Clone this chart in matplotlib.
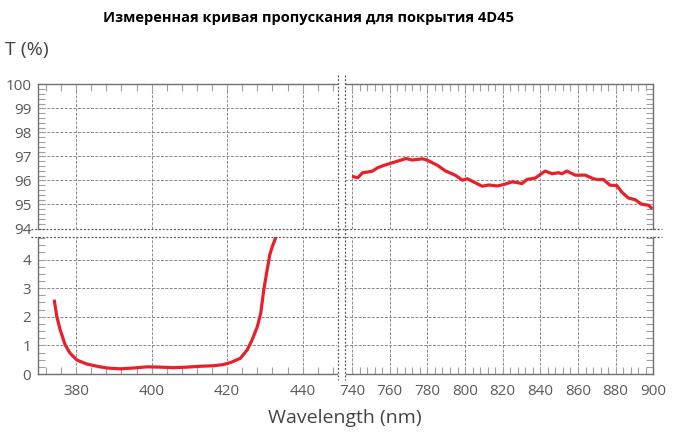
import matplotlib
matplotlib.use("Agg")
import matplotlib.pyplot as plt
from matplotlib.lines import Line2D
from matplotlib.ticker import MultipleLocator

plt.rcParams['font.family'] = ['Open Sans', 'DejaVu Sans']

# UV edge (bottom-left panel)
uv_wl = [374.2, 374.9, 375.8, 377.1, 378.4, 380.2, 382.8, 385.9, 388.2, 391.7,
         395.2, 398.8, 402.3, 405.8, 409.4, 412.9, 416.5, 419.0, 420.9, 423.5,
         425.3, 426.6, 428.0, 428.9, 429.7, 430.6, 431.3, 432.0, 433.0, 433.5]
uv_t = [2.60, 2.01, 1.54, 1.02, 0.73, 0.49, 0.35, 0.26, 0.21, 0.18,
        0.21, 0.25, 0.24, 0.22, 0.24, 0.27, 0.29, 0.33, 0.40, 0.55,
        0.84, 1.19, 1.66, 2.13, 2.95, 3.65, 4.18, 4.47, 4.82, 4.95]

# NIR plateau (top-right panel)
ir_wl = [740, 743, 745.6, 748.3, 750.9, 753.6, 757.1, 762.4, 768.6, 772.1,
         777.4, 780, 785.3, 789.7, 795, 798.6, 801.2, 804.7, 809.1, 812.7,
         817.1, 820.6, 825, 827.7, 830.3, 832.9, 837.4, 840, 842.6, 846.2,
         849.7, 851.5, 854.1, 858.5, 863.8, 868.2, 870.9, 873.5, 877, 880.6,
         883.2, 886.7, 890.3, 893.8, 897.3, 899.6]
ir_t = [96.17, 96.11, 96.32, 96.35, 96.39, 96.53, 96.63, 96.76, 96.91, 96.85,
        96.90, 96.84, 96.63, 96.39, 96.21, 96.01, 96.07, 95.93, 95.76, 95.81,
        95.77, 95.83, 95.94, 95.91, 95.87, 96.04, 96.10, 96.25, 96.39, 96.28,
        96.32, 96.28, 96.39, 96.22, 96.22, 96.07, 96.03, 96.04, 95.80, 95.79,
        95.52, 95.27, 95.20, 95.01, 94.97, 94.82]

left_xticks = [380, 400, 420, 440]
right_xticks = [740, 760, 780, 800, 820, 840, 860, 880, 900]
top_yticks = [94, 95, 96, 97, 98, 99, 100]
bottom_yticks = [0, 1, 2, 3, 4]

title = "Измеренная кривая пропускания для покрытия 4D45"

W, H = 677, 434
fig = plt.figure(figsize=(W / 100, H / 100), dpi=100)


def rect(x0, y0, x1, y1):
    # pixel box (top-left origin) -> figure fraction
    return [x0 / W, 1 - y1 / H, (x1 - x0) / W, (y1 - y0) / H]


LX0, LX1 = 38.3, 336.7
RX0, RX1 = 345.5, 653.3
TY0, TY1 = 84.3, 228.5
BY0, BY1 = 236.7, 374.0

ax_tl = fig.add_axes(rect(LX0, TY0, LX1, TY1))
ax_tr = fig.add_axes(rect(RX0, TY0, RX1, TY1))
ax_bl = fig.add_axes(rect(LX0, BY0, LX1, BY1))
ax_br = fig.add_axes(rect(RX0, BY0, RX1, BY1))

red = '#e8202a'
ax_bl.plot(uv_wl, uv_t, color=red, lw=2.3, solid_capstyle='butt', solid_joinstyle='round')
ax_tr.plot(ir_wl, ir_t, color=red, lw=2.3, solid_capstyle='butt', solid_joinstyle='round')

for ax in (ax_tl, ax_bl):
    ax.set_xlim(370, 449)
    ax.set_xticks(left_xticks)
    ax.xaxis.set_minor_locator(MultipleLocator(4))
for ax in (ax_tr, ax_br):
    ax.set_xlim(736.5, 900)
    ax.set_xticks(right_xticks)
    ax.xaxis.set_minor_locator(MultipleLocator(4))
for ax in (ax_tl, ax_tr):
    ax.set_ylim(94, 100)
    ax.set_yticks(top_yticks)
    ax.yaxis.set_minor_locator(MultipleLocator(0.2))
for ax in (ax_bl, ax_br):
    ax.set_ylim(0, 4.8)
    ax.set_yticks(bottom_yticks)
    ax.yaxis.set_minor_locator(MultipleLocator(0.25))

spine_c = '#707070'
for ax in (ax_tl, ax_tr, ax_bl, ax_br):
    ax.set_facecolor('none')
    ax.grid(True, which='major', color='#8a8a8a', lw=0.7, linestyle=(0, (3, 1.5)))
    for s in ax.spines.values():
        s.set_color(spine_c)
        s.set_linewidth(1.0)
    ax.tick_params(which='both', direction='in', color='#a0a0a0', width=0.8,
                   labelsize=11, labelcolor='#5a5a5a')
    ax.tick_params(which='major', length=5, pad=5)
    ax.tick_params(which='minor', length=5)

# top-left
ax_tl.spines['right'].set_visible(False)
ax_tl.spines['bottom'].set_visible(False)
ax_tl.tick_params(which='both', top=True, bottom=False, labelbottom=False,
                  left=True, right=False)
# top-right
ax_tr.spines['left'].set_visible(False)
ax_tr.spines['bottom'].set_visible(False)
ax_tr.tick_params(which='both', top=True, bottom=False, labelbottom=False,
                  left=False, labelleft=False, right=True)
# bottom-left
ax_bl.spines['right'].set_visible(False)
ax_bl.spines['top'].set_visible(False)
ax_bl.tick_params(which='both', top=False, bottom=True, left=True, right=False)
ax_bl.tick_params(axis='x', which='major', pad=7)
# bottom-right
ax_br.spines['left'].set_visible(False)
ax_br.spines['top'].set_visible(False)
ax_br.tick_params(which='both', top=False, bottom=True, left=False,
                  labelleft=False, right=True)
ax_br.tick_params(axis='x', which='major', pad=7)

# dotted break lines
dot = dict(color='#555555', lw=0.9, linestyle=(0, (1.5, 1.5)), transform=fig.transFigure)
for xp in (337.7, 345.5):
    fig.add_artist(Line2D([xp / W, xp / W], [1 - 75 / H, 1 - 380 / H], **dot))
for yp in (228.5, 236.7):
    fig.add_artist(Line2D([31 / W, 662 / W], [1 - yp / H, 1 - yp / H], **dot))

fig.text(308 / W, 1 - 18 / H, title, ha='center', va='center',
         fontsize=10.5, fontweight='bold', color='black')
fig.text(5 / W, 1 - 50 / H, "T (%)", ha='left', va='center',
         fontsize=14, color='#444444')
fig.text(345 / W, 1 - 418 / H, "Wavelength (nm)", ha='center', va='center',
         fontsize=14, color='#444444')

fig.savefig("out.png", dpi=100)
